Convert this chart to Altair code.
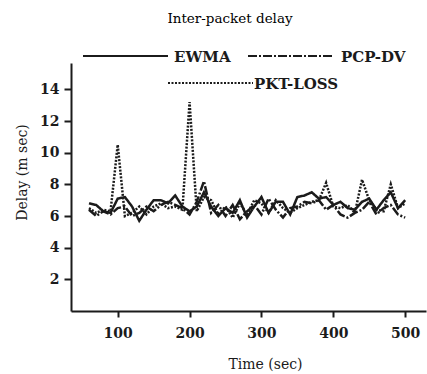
import altair as alt
import pandas as pd

times = list(range(60, 501, 10))
ewma = [6.8, 6.7, 6.3, 6.2, 7.1, 7.2, 6.6, 5.7, 6.4, 7.0, 7.0, 6.8, 7.3, 6.6, 6.3, 6.6,
        7.5, 6.6, 6.0, 6.5, 6.2, 7.0, 5.9, 6.6, 7.2, 6.2, 6.9, 6.9, 6.1, 7.2, 7.3, 7.5,
        7.1, 7.2, 6.7, 6.9, 6.5, 6.4, 6.9, 7.1, 6.4, 7.0, 7.5, 6.5, 7.0]
pcp_dv = [6.4, 6.0, 6.3, 6.1, 6.5, 6.6, 6.0, 6.2, 6.6, 6.3, 6.7, 6.9, 6.7, 6.5, 6.1, 6.9,
          8.2, 6.2, 6.7, 6.0, 6.7, 5.8, 6.3, 6.7, 6.1, 7.1, 6.4, 5.9, 6.5, 6.6, 6.9, 6.8,
          7.0, 6.4, 6.7, 6.1, 5.9, 6.2, 6.4, 6.9, 6.1, 6.5, 6.7, 6.1, 5.9]
pkt_loss = [6.5, 6.2, 6.4, 6.3, 10.5, 6.0, 6.2, 6.6, 6.1, 6.6, 6.8, 6.5, 6.6, 6.4, 13.2, 6.3,
            7.2, 7.0, 6.1, 6.6, 5.9, 6.8, 6.1, 7.0, 6.8, 6.2, 7.0, 6.5, 6.2, 6.5, 6.7, 6.9,
            7.0, 8.1, 6.6, 6.5, 6.7, 6.2, 8.3, 7.0, 6.4, 6.3, 8.0, 6.5, 6.8]

series = ["EWMA", "PCP-DV", "PKT-LOSS"]
dashes = [[1, 0], [9, 2, 2, 2], [2, 1.5]]
x_ticks = [100, 200, 300, 400, 500]
y_ticks = [2, 4, 6, 8, 10, 12, 14]

rows = []
for name, vals in zip(series, [ewma, pcp_dv, pkt_loss]):
    for t, v in zip(times, vals):
        rows.append({"time": t, "delay": v, "series": name})
df = pd.DataFrame(rows)
one = pd.DataFrame({"k": [0]})

SERIF = "DejaVu Serif"
INK = "#1b1b1b"

lines = alt.Chart(df).mark_line(color=INK, strokeWidth=2.5).encode(
    x=alt.X("time:Q", scale=alt.Scale(domain=[35, 529], nice=False, zero=False),
            axis=alt.Axis(values=x_ticks, title="Time (sec)", grid=False,
                          tickSize=6, labelPadding=9, titleX=194, titleY=53,
                          titleBaseline="middle", titleAlign="center")),
    y=alt.Y("delay:Q", scale=alt.Scale(domain=[0, 15.67], nice=False),
            axis=alt.Axis(values=y_ticks, title="Delay (m sec)", grid=False,
                          tickSize=7, labelPadding=5, titleX=-49, titleY=109,
                          titleAngle=-90, titleBaseline="middle", titleAlign="center")),
    strokeDash=alt.StrokeDash("series:N", scale=alt.Scale(domain=series, range=dashes),
                              legend=None),
    detail="series:N",
)

def legend_entry(x0, x1, y, dash, label, tx):
    rule = alt.Chart(one).mark_rule(color=INK, strokeWidth=2, strokeDash=dash).encode(
        x=alt.value(x0), x2=alt.value(x1), y=alt.value(y))
    text = alt.Chart(one).mark_text(font=SERIF, fontSize=15, fontWeight="bold",
                                    align="left", baseline="middle", color=INK).encode(
        x=alt.value(tx), y=alt.value(y + 1), text=alt.value(label))
    return rule + text

leg = (legend_entry(12, 97, -7, dashes[0], "EWMA", 103)
       + legend_entry(177, 262, -7, dashes[1], "PCP-DV", 270)
       + legend_entry(97, 182, 20, dashes[2], "PKT-LOSS", 183))

title = alt.Chart(one).mark_text(font=SERIF, fontSize=13.5, align="center",
                                 baseline="middle", color="#000000").encode(
    x=alt.value(159), y=alt.value(-44), text=alt.value("Inter-packet delay"))

chart = alt.layer(lines, leg, title).properties(
    width=355, height=248,
    background="white",
    autosize=alt.AutoSizeParams(type="none"),
    padding={"left": 71, "top": 63, "right": 1, "bottom": 63},
).configure_view(stroke=None).configure_axis(
    domainColor=INK, domainWidth=2, tickColor=INK, tickWidth=2,
    labelFont=SERIF, labelFontSize=14, labelFontWeight="bold", labelColor=INK,
    titleFont=SERIF, titleFontSize=14, titleFontWeight="normal", titleColor=INK,
)

chart.save("out.html", embed_options={"renderer": "svg", "actions": False})
